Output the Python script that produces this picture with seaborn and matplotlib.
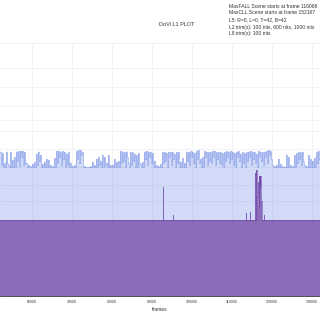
import numpy as np
import pandas as pd
import matplotlib
matplotlib.use("Agg")
import matplotlib.pyplot as plt
import seaborn as sns

# ---------------- data ----------------
# MaxCLL-like (max PQ) per 500-frame segment, in nits, starting at frame 52000
max_start = 52000
max_step = 500
max_nits = [
    185, 175, 120, 185, 110, 180, 135, 150, 185, 190, 190, 190, 185, 120, 110, 105,
    115, 125, 170, 185, 160, 115, 125, 140, 135, 110, 105, 145, 190, 190, 185, 190,
    185, 170, 185, 120, 105, 110, 190, 195, 195, 180, 105, 102, 102, 105, 125, 110,
    140, 150, 130, 165, 150, 120, 160,
    108, 112, 140, 125, 130, 190, 185, 180, 185, 120, 185, 180, 170, 160, 175, 115,
    125, 185, 190, 185, 180, 175, 130, 108, 105, 115, 180, 185, 175, 185, 180, 185,
    170, 185, 180, 125, 145, 120, 185, 180, 190, 185, 175, 190, 195, 140, 150, 190,
    185, 180, 185, 190, 190, 185, 180,
    185, 175, 180, 190, 185, 190, 185, 175, 185, 190, 170, 185, 175, 180, 185, 190,
    185, 180, 170, 190, 185, 180, 185, 190, 195, 190, 108, 105, 110, 140, 115, 105,
    102, 165, 150, 110, 105, 160, 175, 185, 180, 185, 110, 105, 160, 140, 130, 145,
    185, 190,
]
# short dips inside each 500-frame segment (nits), drawn as thin scene cuts
max_dips = [
    110, 100, 100, 120, 100, 100, 100, 100, 130, 105, 150, 110, 120, 100, 100, 100,
    100, 100, 110, 130, 100, 100, 100, 100, 100, 100, 100, 100, 120, 150, 110, 140,
    100, 110, 100, 100, 100, 100, 140, 120, 160, 100, 100, 100, 100, 100, 100, 100,
    100, 110, 100, 100, 110, 100, 100,
    100, 100, 100, 100, 100, 120, 130, 100, 150, 100, 110, 130, 100, 100, 120, 100,
    100, 140, 110, 150, 120, 100, 100, 100, 100, 100, 120, 130, 100, 150, 110, 140,
    100, 120, 100, 100, 100, 100, 130, 110, 150, 120, 100, 140, 120, 100, 100, 150,
    110, 130, 120, 150, 110, 140, 120,
    110, 100, 130, 150, 120, 140, 110, 100, 150, 130, 100, 120, 100, 130, 150, 110,
    140, 120, 100, 150, 130, 110, 150, 120, 160, 140, 100, 100, 100, 100, 100, 100,
    100, 100, 100, 100, 100, 100, 120, 140, 110, 130, 100, 100, 100, 100, 100, 100,
    120, 140,
]

# Average (MaxFALL-like) scenes: start frames and nits
avg_frames = [52000, 92780, 92860, 95300, 95360, 113450, 113510, 114480, 114540,
              115780, 115860, 116068, 116140, 116460, 116560, 116800, 116880,
              117050, 117250, 117350, 117500, 118060, 118120, 132000]
avg_nits = [10, 45, 10, 13, 10, 14, 10, 15, 10,
            80, 10, 90, 30, 55, 20, 70, 45,
            72, 40, 25, 10, 13, 10, 10]

x_ticks = [60000, 70000, 80000, 90000, 100000, 110000, 120000, 130000]
y_grid_nits = [0.01, 0.1, 0.5, 1, 5, 10, 25, 50, 100, 200, 400, 600, 1000, 2000, 4000, 10000]

title = "DoVi L1 PLOT"
info_lines = [
    "MaxFALL Scene starts at frame 116068",
    "MaxCLL Scene starts at frame 152167",
    "L5: R=0, L=0, T=42, B=42",
    "L2 trim(s): 100 nits, 600 nits, 1000 nits",
    "L8 trim(s): 100 nits",
]

# ---------------- PQ scale ----------------
m1 = 2610 / 16384
m2 = 2523 / 4096 * 128
c1 = 3424 / 4096
c2 = 2413 / 4096 * 32
c3 = 2392 / 4096 * 32


def pq(n):
    y = np.clip(np.asarray(n, dtype=float), 0, 10000) / 10000.0
    ym = y ** m1
    return ((c1 + c2 * ym) / (1 + c3 * ym)) ** m2


def pq_inv(v):
    v = np.clip(np.asarray(v, dtype=float), 0, 1)
    vp = v ** (1 / m2)
    return 10000.0 * (np.maximum(vp - c1, 0) / (c2 - c3 * vp)) ** (1 / m1)


# ---------------- figure ----------------
sns.set_theme(style="white")
plt.rcParams["font.family"] = ["Liberation Sans", "DejaVu Sans"]

fig = plt.figure(figsize=(3.2, 3.2), dpi=100)
ax = fig.add_axes([0.0, 1 - 296 / 320, 1.0, 253 / 320])
ax.set_yscale("function", functions=(pq, pq_inv))

# each 500-frame segment: main value, then a short dip near its end
frames, vals = [], []
for i, (v, d) in enumerate(zip(max_nits, max_dips)):
    s = max_start + i * max_step
    frames += [s, s + 330]
    vals += [v, d]
frames.append(max_start + len(max_nits) * max_step)
vals.append(max_nits[-1])
df_max = pd.DataFrame({"frame": frames, "nits": vals})
df_avg = pd.DataFrame({"frame": avg_frames, "nits": avg_nits})

ax.fill_between(df_max["frame"], 0, df_max["nits"], step="post",
                color="#3a62dc", alpha=0.23, linewidth=0, zorder=2)
sns.lineplot(data=df_max, x="frame", y="nits", drawstyle="steps-post",
             color="#4466dd", alpha=0.55, linewidth=0.45, ax=ax, zorder=3,
             estimator=None)

ax.fill_between(df_avg["frame"], 0, df_avg["nits"], step="post",
                color="#663399", alpha=0.66, linewidth=0, zorder=4)
sns.lineplot(data=df_avg, x="frame", y="nits", drawstyle="steps-post",
             color="#6a3aa6", alpha=0.75, linewidth=0.5, ax=ax, zorder=5,
             estimator=None)

ax.set_xlim(52000, 132000)
ax.set_ylim(0, 10000)

ax.set_yticks(y_grid_nits)
ax.set_yticklabels([])
ax.set_xticks(x_ticks)
ax.set_xticklabels([str(t) for t in x_ticks], fontsize=2.5, color="#333333")
ax.tick_params(axis="x", length=1.6, width=0.4, pad=1.2, color="#666666")
ax.tick_params(axis="y", length=0)
ax.grid(True, color="#f1f1f1", linewidth=0.6, zorder=0)
ax.set_axisbelow(True)
for s in ["top", "left", "right"]:
    ax.spines[s].set_visible(False)
ax.spines["bottom"].set_color("#333333")
ax.spines["bottom"].set_linewidth(0.6)
ax.set_xlabel("frames", fontsize=3.6, color="#333333", labelpad=2.2)
ax.set_ylabel("")

fig.text(177 / 320, 1 - 25 / 320, title, ha="center", va="center",
         fontsize=4.0, color="#333333")
for i, line in enumerate(info_lines):
    fig.text(229 / 320, 1 - (6 + 7 * i) / 320, line, ha="left", va="center",
             fontsize=3.6, color="#333333")

fig.savefig("out.png", dpi=100)
